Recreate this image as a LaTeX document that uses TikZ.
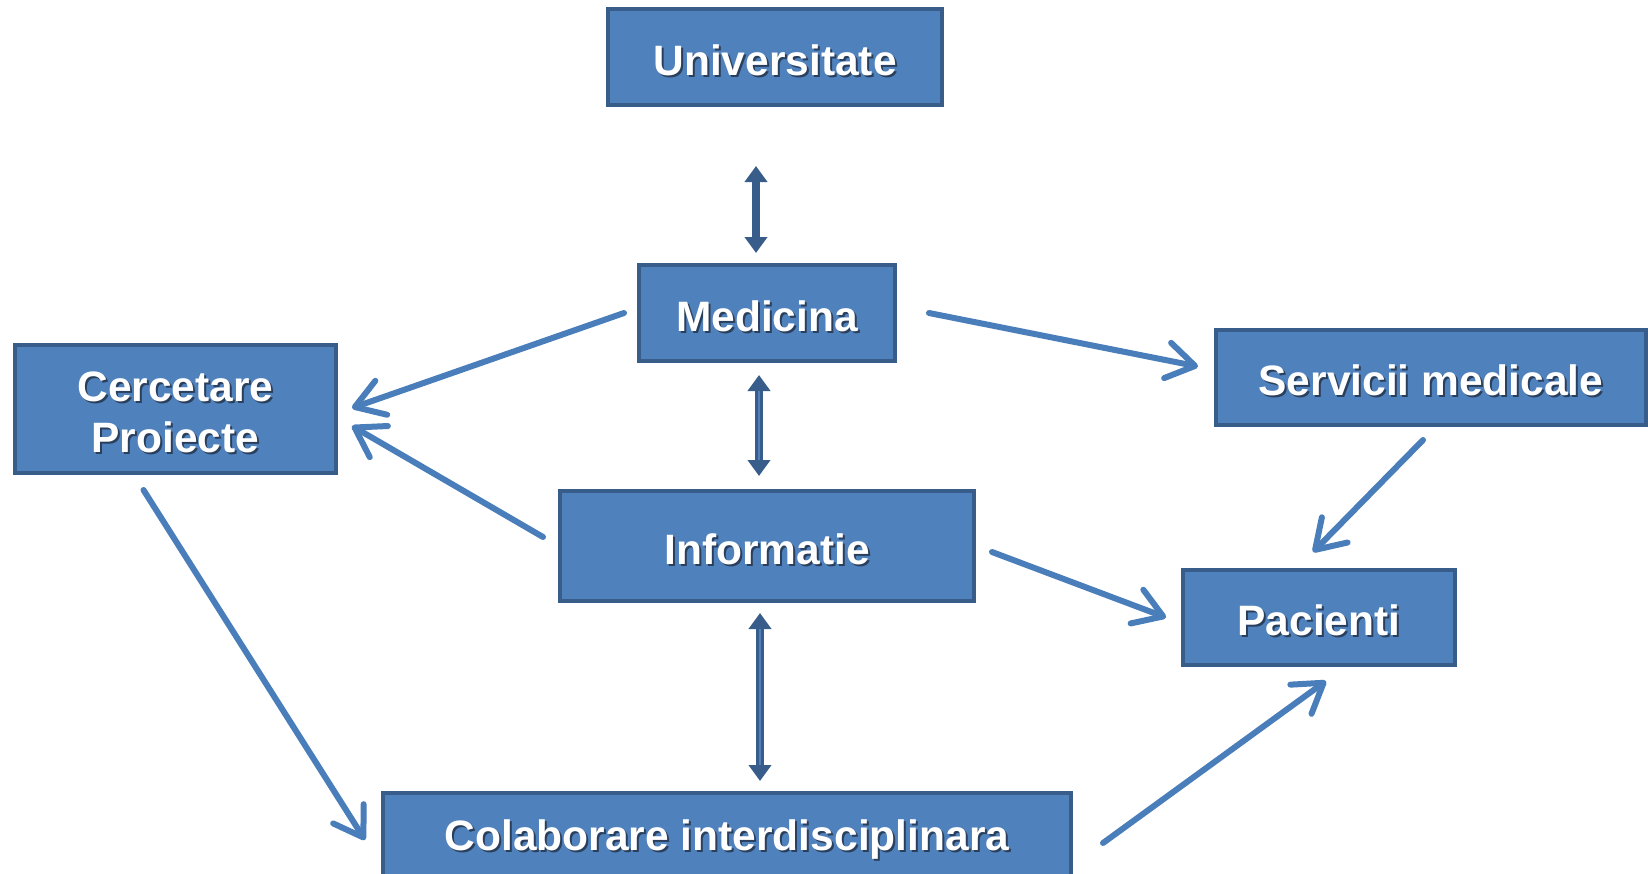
\documentclass[tikz,border=0pt]{standalone}
\usepackage{fontspec}
\setmainfont{Liberation Sans}
\usetikzlibrary{arrows.meta}
\definecolor{boxfill}{HTML}{4F81BD}
\definecolor{boxline}{HTML}{385D8A}
\definecolor{arrowc}{HTML}{4A7EBB}
\definecolor{shadowc}{HTML}{2A3F5C}
\newcommand{\shd}[1]{\raisebox{-4pt}[\height][\depth]{\makebox[0pt][l]{\kern2pt\raisebox{-2pt}{\textcolor{shadowc}{#1}}}#1}}
\begin{document}
\begin{tikzpicture}[x=1pt,y=-1pt,
  box/.style={draw=boxline, fill=boxfill, line width=4pt, text=white,
    font=\fontsize{42.5}{51}\selectfont\bfseries, align=center, inner sep=0pt},
  conn/.style={draw=arrowc, line width=6pt, line cap=round,
    -{Straight Barb[length=28pt,width=36pt,round]}},
  dbl/.style={draw=boxline, line width=8pt,
    {Triangle[length=16pt,width=22pt]}-{Triangle[length=16pt,width=22pt]}},
  dblin/.style={draw=boxfill, line width=2.5pt, shorten <=16pt, shorten >=16pt}]
\useasboundingbox (0,0) rectangle (1648,873);

\node[box, minimum width=334pt, minimum height=96pt] (uni) at (775,57) {\shd{Universitate}};
\node[box, minimum width=256pt, minimum height=96pt] (med) at (767,313) {\shd{Medicina}};
\node[box, minimum width=321pt, minimum height=128pt] (cer) at (175.5,409) {\shd{Cercetare}\\\shd{Proiecte}};
\node[box, minimum width=430pt, minimum height=95pt] (ser) at (1431,377.5) {\shd{Servicii medicale}};
\node[box, minimum width=414pt, minimum height=110pt] (inf) at (767,546) {\shd{Informatie}};
\node[box, minimum width=272pt, minimum height=95pt] (pac) at (1319,617.5) {\shd{Pacienti}};
\node[box, minimum width=688pt, minimum height=86pt] (col) at (727,836) {\shd{Colaborare interdisciplinara}};

% double arrows
\draw[dbl] ([shift={(-19,59)}]uni.south) -- ([shift={(-11,-10)}]med.north);
\draw[dbl] ([shift={(-8,12)}]med.south) -- ([shift={(-8,-13)}]inf.north);
\draw[dblin] ([shift={(-8,12)}]med.south) -- ([shift={(-8,-13)}]inf.north);
\draw[dbl] ([shift={(-7,10)}]inf.south) -- ([shift={(33,-10)}]col.north);
\draw[dblin] ([shift={(-7,10)}]inf.south) -- ([shift={(33,-10)}]col.north);

% single arrows
\draw[conn] ([shift={(-13,0)}]med.west) -- ([shift={(14,-1)}]cer.east);
\draw[conn] ([shift={(-15,-9)}]inf.west) -- ([shift={(14,17)}]cer.east);
\draw[conn] ([shift={(32,0)}]med.east) -- ([shift={(-16,-11)}]ser.west);
\draw[conn] ([shift={(16,6)}]inf.east) -- ([shift={(-15,0)}]pac.west);
\draw[conn] ([shift={(-8,13)}]ser.south) -- ([shift={(-6,-16)}]pac.north);
\draw[conn] ([shift={(-32,15)}]cer.south) -- ([shift={(-16,4)}]col.west);
\draw[conn] ([shift={(30,7)}]col.east) -- ([shift={(7,14)}]pac.south);
\end{tikzpicture}
\end{document}
